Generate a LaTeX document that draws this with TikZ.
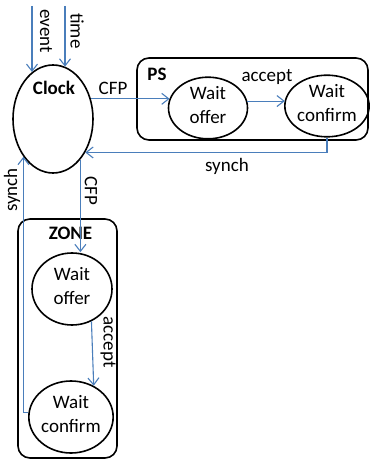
\documentclass[tikz,border=0pt]{standalone}
\usepackage{fontspec}
\setmainfont{Carlito}
\usetikzlibrary{arrows.meta,shapes.geometric}
\definecolor{flow}{RGB}{74,126,187}
\newcommand{\diagfont}{\fontsize{19}{24.5}\selectfont}
\tikzset{
  state/.style={ellipse, draw=black, line width=1.6pt, inner sep=0pt,
    align=center, text depth=6pt, font=\diagfont},
  group/.style={rectangle, draw=black, line width=1.6pt, rounded corners=12pt},
  lbl/.style={inner sep=0pt, font=\diagfont},
  title/.style={inner sep=0pt, font=\diagfont\bfseries},
  flowline/.style={draw=flow, line width=1.1pt,
    -{Straight Barb[length=7pt,width=11pt]}},
}
\begin{document}
\begin{tikzpicture}[x=1pt,y=-1pt]
\useasboundingbox (0,0) rectangle (370,462);

% containers
\node[group, minimum width=231pt, minimum height=82pt] (psbox) at (252.5,99) {};
\node[group, minimum width=99pt, minimum height=239pt] (zonebox) at (67.5,338.5) {};
\node[title] (pstitle) at (157,74) {PS};
\node[title] (zonetitle) at (70.5,233.5) {ZONE};

% states
\node[state, minimum width=80pt, minimum height=108pt] (clock) at (53,119) {};
\node[title] (clocktitle) at (54,88) {Clock};
\node[state, minimum width=79pt, minimum height=53pt] (psoffer) at (208,108) {Wait\\offer};
\node[state, minimum width=72pt, minimum height=57pt] (psconf) at (327,106) {Wait\\confirm};
\node[state, minimum width=80pt, minimum height=72pt] (zoffer) at (72,289) {Wait\\offer};
\node[state, minimum width=80pt, minimum height=72pt] (zconf) at (71,417) {Wait\\confirm};

% inputs to the clock
\coordinate (evin) at (32,6);
\coordinate (tmin) at (65,6);
\draw[flowline] (evin) -- (evin |- clock.114.5);
\draw[flowline] (tmin) -- (tmin |- clock.77);
\node[lbl, rotate=-90] (evlbl) at (46,31) {event};
\node[lbl, rotate=-90] (tmlbl) at (77,31) {time};

% PS side
\draw[flowline] (clock.28) -- (clock.28 -| psoffer.166);
\node[lbl] (cfp1) at (113,88) {CFP};
\draw[flowline] (psoffer.10) -- (psoffer.10 -| psconf.172);
\node[lbl] (acc1) at (267,77) {accept};
\draw[flowline] (psconf.south) |- (clock.-46);
\node[lbl] (syn1) at (227,166) {synch};

% ZONE side
\draw[flowline] (clock.-56) -- (clock.-56 |- zoffer.north);
\node[lbl, rotate=-90] (cfp2) at (91,191) {CFP};
\draw[flowline] (zoffer.-59) -- (zconf.54);
\node[lbl, rotate=-90] (acc2) at (108,342) {accept};
\draw[flowline] (zconf.174) -| (clock.232);
\node[lbl, rotate=90] (syn2) at (12,190) {synch};
\end{tikzpicture}
\end{document}
